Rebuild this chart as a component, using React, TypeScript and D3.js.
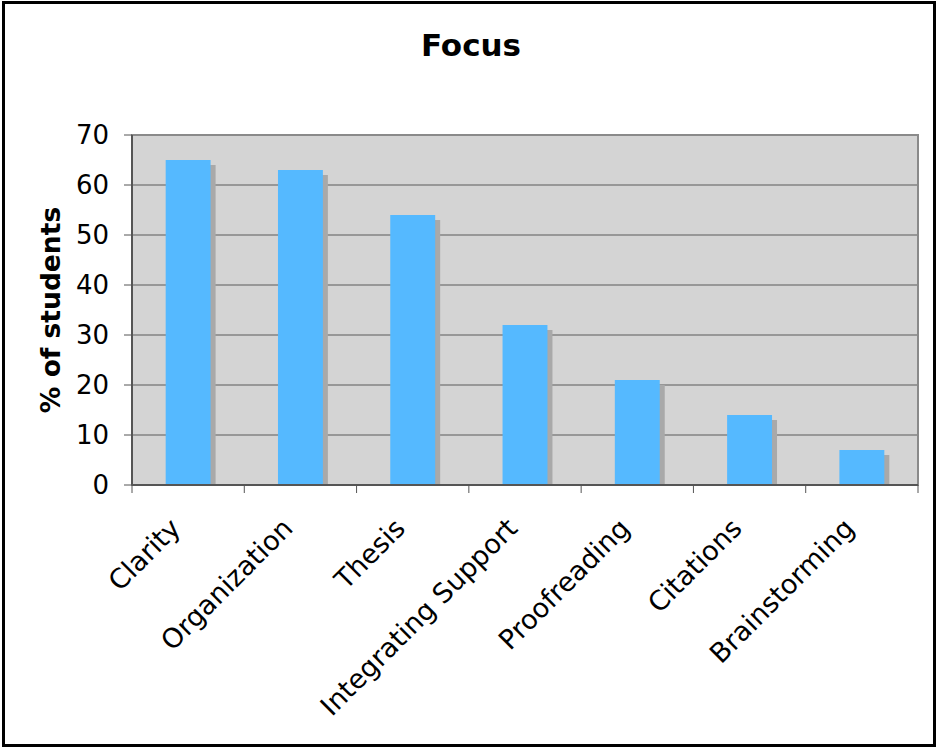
import * as d3 from "d3";

const categories = ["Clarity", "Organization", "Thesis", "Integrating Support", "Proofreading", "Citations", "Brainstorming"];
const percentValues = [65, 63, 54, 32, 21, 14, 7];
const yTickValues = [0, 10, 20, 30, 40, 50, 60, 70];

const width = 938;
const height = 749;
const plot = { left: 132, right: 918, top: 135, bottom: 485 };
const fontFamily = "Verdana, 'DejaVu Sans', sans-serif";

export default function App() {
  const xScale = d3
    .scaleBand<string>()
    .domain(categories)
    .range([plot.left, plot.right])
    .paddingInner(0.6)
    .paddingOuter(0.3);
  const yScale = d3.scaleLinear().domain([0, 70]).range([plot.bottom, plot.top]);
  const step = xScale.step();
  const bandStarts = d3.range(categories.length + 1).map((i) => plot.left + i * step);

  return (
    <div style={{ position: "fixed", left: 0, top: 0 }}>
      <svg width={width} height={height} style={{ display: "block", background: "#fff" }} fontFamily={fontFamily}>
        <rect x={3.5} y={2.5} width={931} height={743} fill="#fff" stroke="#000" strokeWidth={3} />

        <text x={471} y={56} textAnchor="middle" fontSize={31} fontWeight="bold" fill="#000">Focus</text>

        {/* plot area */}
        <rect x={plot.left} y={plot.top} width={plot.right - plot.left} height={plot.bottom - plot.top} fill="#d4d4d4" />
        {yTickValues.slice(1).map((tick) => (
          <line key={`g-${tick}`} x1={plot.left} x2={plot.right} y1={yScale(tick)} y2={yScale(tick)} stroke="#5a5a5a" strokeWidth={1} />
        ))}

        {categories.map((cat, i) => {
          const x = xScale(cat) ?? 0;
          const y = yScale(percentValues[i]);
          return (
            <g key={cat}>
              <rect x={x + 5} y={y + 5} width={xScale.bandwidth()} height={plot.bottom - y - 5} fill="#a9a9a9" />
              <rect x={x} y={y} width={xScale.bandwidth()} height={plot.bottom - y} fill="#55b9ff" />
            </g>
          );
        })}

        <rect x={plot.left} y={plot.top} width={plot.right - plot.left} height={plot.bottom - plot.top} fill="none" stroke="#8a8a8a" strokeWidth={2} />
        <line x1={plot.left} x2={plot.left} y1={plot.top} y2={plot.bottom} stroke="#555" strokeWidth={2} />
        <line x1={plot.left} x2={plot.right} y1={plot.bottom} y2={plot.bottom} stroke="#555" strokeWidth={2} />

        {/* y axis */}
        {yTickValues.map((tick) => (
          <g key={`y-${tick}`}>
            <line x1={plot.left - 8} x2={plot.left} y1={yScale(tick)} y2={yScale(tick)} stroke="#555" strokeWidth={1} />
            <text x={109} y={yScale(tick)} dy="0.36em" textAnchor="end" fontSize={26} fill="#000">{tick}</text>
          </g>
        ))}
        <text transform={`translate(60, ${(plot.top + plot.bottom) / 2}) rotate(-90)`} textAnchor="middle" fontSize={26.5} fontWeight="bold" fill="#000">% of students</text>

        {/* x axis */}
        {bandStarts.map((x) => (
          <line key={`x-${x}`} x1={x} x2={x} y1={plot.bottom} y2={plot.bottom + 8} stroke="#555" strokeWidth={1} />
        ))}
        {categories.map((cat) => {
          const cx = (xScale(cat) ?? 0) + xScale.bandwidth() / 2;
          return (
            <text key={`l-${cat}`} transform={`translate(${cx - 6}, 530) rotate(-45)`} textAnchor="end" fontSize={27} fill="#000">{cat}</text>
          );
        })}
      </svg>
    </div>
  );
}
